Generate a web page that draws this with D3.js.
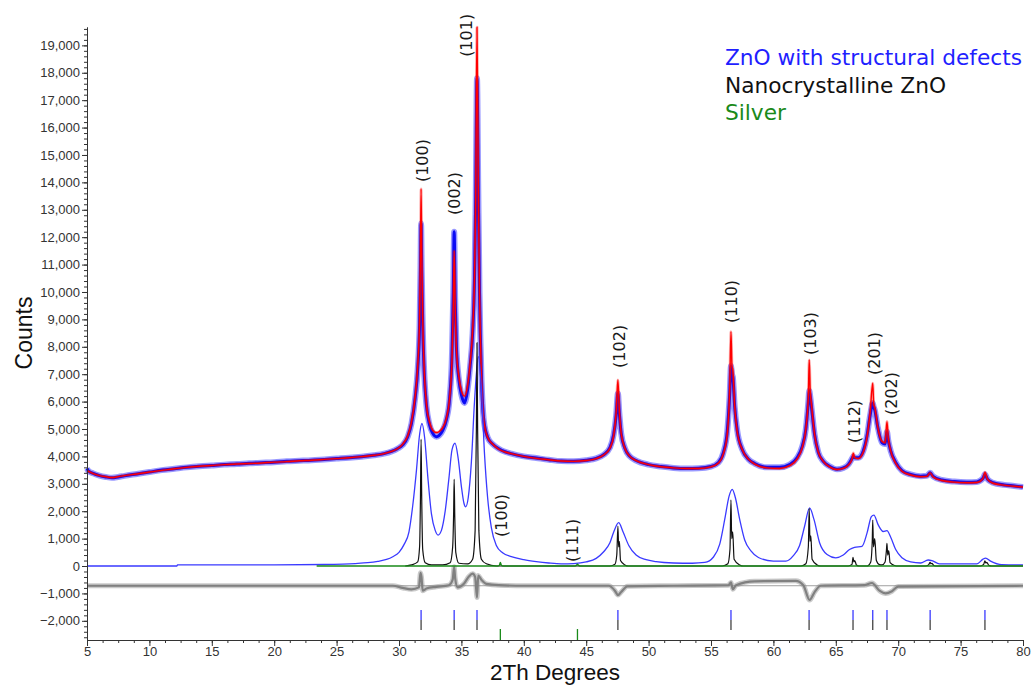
<!DOCTYPE html>
<html>
<head>
<meta charset="utf-8">
<script src="https://cdn.jsdelivr.net/npm/d3@7"></script>
<style>
	body { margin: 0; background: #fff; }
	svg { display: block; }
	.axis text { font-family: "Liberation Sans", Arial, sans-serif; font-size: 13px; fill: #333; }
	.axis path, .axis line { stroke: #333; }
</style>
</head>
<body>
<div class="graphic"></div>
<script>

// 2Th, counts
var observed = [[5.0,3560],[5.1,3480],[5.5,3380],[6,3300],[6.5,3250],[7,3220],[7.5,3250],[8,3290],[9,3360],[10,3430],[11,3500],[12,3550],[13,3600],[14,3640],[15,3670],[16,3700],[17,3720],[18,3750],[19,3770],[20,3790],[21,3820],[22,3840],[23,3860],[24,3890],[25,3920],[26,3950],[27,3990],[28,4040],[28.8,4100],[29.4,4180],[29.9,4290],[30.3,4420],[30.7,4720],[31.0,5200],[31.3,6150],[31.5,7200],[31.65,8800],[31.72,10800],[31.77,12500],[31.82,10800],[31.9,8800],[32.0,7300],[32.2,5850],[32.45,5150],[32.7,4850],[33.0,4720],[33.2,4760],[33.5,4950],[33.8,5350],[34.05,6100],[34.25,7800],[34.35,10000],[34.42,12200],[34.5,9800],[34.6,8000],[34.8,6800],[35.0,6250],[35.25,5950],[35.5,6450],[35.7,7300],[35.9,8500],[36.05,10500],[36.15,13500],[36.25,17800],[36.35,13800],[36.45,10000],[36.6,7000],[36.8,5300],[37.1,4700],[37.5,4450],[38,4280],[38.5,4170],[39,4100],[40,4000],[41,3940],[42,3880],[43,3830],[44,3820],[45,3860],[45.8,3930],[46.4,4060],[46.9,4320],[47.2,4800],[47.4,5500],[47.54,6300],[47.65,5600],[47.8,4850],[48.1,4300],[48.5,4000],[49,3850],[50,3700],[51,3630],[52,3580],[53,3560],[54,3570],[55,3630],[55.6,3780],[56.0,4150],[56.3,4900],[56.5,6300],[56.6,7300],[56.68,7000],[56.75,6900],[56.9,5800],[57.1,4950],[57.5,4250],[58,3900],[58.5,3740],[59.5,3600],[60.5,3600],[61.3,3700],[61.9,3950],[62.3,4350],[62.6,5000],[62.8,6000],[62.87,6400],[62.95,6200],[63.05,5800],[63.3,4800],[63.6,4150],[64,3820],[64.5,3640],[65.1,3530],[65.6,3580],[66.0,3700],[66.3,3920],[66.4,4000],[66.5,3950],[66.8,3950],[67.2,4200],[67.5,4750],[67.75,5500],[67.96,5950],[68.04,5800],[68.12,5700],[68.35,5100],[68.7,4500],[68.95,4450],[69.1,4900],[69.2,4600],[69.4,4200],[69.8,3780],[70.3,3480],[71,3340],[71.8,3280],[72.3,3290],[72.56,3400],[72.8,3270],[73.5,3140],[74.5,3080],[75.5,3060],[76.3,3070],[76.8,3200],[76.95,3350],[77.15,3170],[77.6,3040],[78.5,2960],[79.3,2920],[80,2880]];

var calculated = [[5.0,3480],[5.5,3370],[6.0,3300],[6.5,3260],[7.0,3230],[7.5,3260],[8.0,3300],[9,3360],[10,3430],[11,3490],[12,3550],[13,3600],[14,3640],[15,3670],[16,3700],[17,3720],[18,3740],[19,3760],[20,3790],[21,3810],[22,3840],[23,3860],[24,3890],[25,3920],[26,3950],[27,3990],[28,4040],[28.8,4100],[29.4,4180],[29.9,4290],[30.3,4450],[30.7,4750],[31.0,5250],[31.3,6200],[31.5,7300],[31.65,9000],[31.72,11500],[31.77,13760],[31.82,11500],[31.9,9000],[32.0,7400],[32.2,5900],[32.45,5250],[32.7,4960],[33.0,4870],[33.2,4900],[33.5,5050],[33.8,5400],[34.05,6100],[34.25,7600],[34.35,9500],[34.42,11500],[34.5,9500],[34.6,7900],[34.8,6900],[35.0,6400],[35.25,6200],[35.5,6600],[35.7,7400],[35.9,8600],[36.05,10500],[36.15,13500],[36.25,19660],[36.35,14000],[36.45,10000],[36.6,7000],[36.8,5300],[37.1,4700],[37.5,4450],[38,4260],[38.5,4160],[39,4100],[40,4000],[41,3930],[42,3880],[43,3830],[44,3820],[45,3850],[45.8,3920],[46.4,4050],[46.9,4300],[47.2,4750],[47.4,5600],[47.54,6790],[47.65,5700],[47.8,4850],[48.1,4300],[48.5,4000],[49,3850],[50,3700],[51,3620],[52,3580],[53,3560],[54,3560],[55,3620],[55.6,3760],[56.0,4100],[56.3,4800],[56.5,6500],[56.6,8550],[56.68,7300],[56.75,7150],[56.9,5800],[57.1,4900],[57.5,4250],[58,3900],[58.5,3720],[59.5,3580],[60.5,3560],[61.3,3660],[61.9,3900],[62.3,4300],[62.6,5000],[62.8,6200],[62.87,7520],[62.95,6400],[63.05,5900],[63.3,4800],[63.6,4150],[64,3820],[64.5,3620],[65.1,3520],[65.6,3560],[66.0,3680],[66.3,3900],[66.4,4120],[66.5,3960],[66.8,3920],[67.2,4150],[67.5,4700],[67.75,5600],[67.96,6670],[68.04,5900],[68.12,5800],[68.35,5100],[68.7,4550],[68.95,4500],[69.1,5270],[69.2,4700],[69.4,4200],[69.8,3750],[70.3,3460],[71,3320],[71.8,3260],[72.3,3270],[72.56,3400],[72.8,3250],[73.5,3120],[74.5,3060],[75.5,3040],[76.3,3050],[76.8,3200],[76.95,3420],[77.15,3170],[77.6,3020],[78.5,2950],[79.3,2910],[80,2880]];

var defectZnO = [[5,0],[12.2,0],[12.25,40],[20,45],[24,55],[25.5,70],[26.5,90],[27.5,120],[28.3,170],[29,240],[29.5,340],[30,500],[30.4,780],[30.8,1250],[31.1,2200],[31.4,3500],[31.65,4800],[31.84,5200],[32.05,4700],[32.3,3300],[32.6,1900],[32.9,1300],[33.13,1130],[33.4,1300],[33.7,2000],[34.0,3200],[34.25,4250],[34.49,4480],[34.75,3900],[35.0,2900],[35.2,2300],[35.34,2160],[35.55,2500],[35.8,3800],[36.05,6000],[36.36,7640],[36.6,6500],[36.85,4100],[37.1,2500],[37.4,1400],[37.8,750],[38.3,480],[39,340],[40,230],[41,160],[42,110],[43,80],[44,90],[45,150],[45.8,280],[46.4,520],[46.9,850],[47.25,1300],[47.6,1580],[47.95,1250],[48.4,760],[49,400],[49.8,230],[50.6,160],[52,110],[53.5,100],[54.5,130],[55.2,330],[55.7,800],[56.1,1700],[56.45,2550],[56.7,2800],[56.95,2500],[57.3,1700],[57.7,950],[58.2,550],[58.8,310],[60,180],[61.0,180],[61.6,380],[62.1,750],[62.5,1450],[62.9,2120],[63.25,1700],[63.7,850],[64.3,420],[65.0,300],[65.6,400],[66.1,600],[66.5,680],[67.1,720],[67.5,1200],[67.85,1800],[68.05,1860],[68.4,1500],[68.8,1260],[69.1,1290],[69.4,1050],[69.8,600],[70.3,300],[71,150],[71.8,110],[72.4,220],[72.7,200],[73.3,80],[76.3,80],[76.8,250],[77.0,290],[77.4,180],[78.3,50],[80,40]];

var nanoZnO = [[30.5,0],[31.0,40],[31.5,150],[31.65,700],[31.72,2500],[31.77,4620],[31.82,2500],[31.9,600],[32.1,120],[32.6,40],[33.5,40],[34.1,120],[34.3,700],[34.38,2000],[34.42,3160],[34.47,1800],[34.55,500],[34.8,100],[35.5,80],[35.9,250],[36.1,1300],[36.2,5000],[36.25,8150],[36.3,5000],[36.4,1300],[36.6,250],[37,80],[37.8,0],[46.9,0],[47.3,60],[47.45,400],[47.54,1460],[47.6,700],[47.66,900],[47.75,200],[48.1,40],[48.4,0],[55.9,0],[56.35,80],[56.52,600],[56.6,2410],[56.66,1000],[56.74,1250],[56.85,250],[57.3,40],[57.6,0],[62.2,0],[62.6,80],[62.8,700],[62.87,2100],[62.93,900],[63.0,1100],[63.1,250],[63.5,40],[63.8,0],[66.0,0],[66.3,60],[66.38,320],[66.45,150],[66.52,200],[66.65,40],[66.9,0],[67.5,0],[67.8,150],[67.92,900],[67.96,1680],[68.02,700],[68.12,1000],[68.25,200],[68.5,50],[68.7,40],[68.95,150],[69.06,600],[69.1,830],[69.16,400],[69.24,560],[69.35,120],[69.7,20],[70.0,0],[72.2,0],[72.45,50],[72.56,130],[72.62,80],[72.7,100],[72.85,20],[73.1,0],[76.6,0],[76.85,60],[76.95,190],[77.02,110],[77.1,130],[77.25,30],[77.5,0],[80,0]];

var silver = [[23.4,0],[37.9,0],[38.05,30],[38.12,130],[38.2,30],[38.35,0],[44.1,0],[44.25,40],[44.3,60],[44.35,40],[44.5,0],[80,0]];

var difference = [[5,-720],[29.5,-720],[30.3,-800],[31.0,-850],[31.6,-780],[31.72,-250],[31.8,-400],[31.9,-900],[32.2,-820],[33,-760],[34.0,-700],[34.3,-500],[34.42,-30],[34.5,-450],[34.7,-780],[35.2,-650],[35.6,-380],[35.9,-280],[36.1,-400],[36.25,-1150],[36.35,-350],[36.6,-500],[37,-650],[38,-700],[40,-720],[46.8,-720],[47.3,-900],[47.55,-1060],[47.8,-950],[48.3,-740],[52,-720],[56.4,-700],[56.6,-600],[56.75,-850],[57,-700],[58.5,-560],[61.8,-540],[62.4,-700],[62.9,-1240],[63.3,-950],[63.8,-720],[67.3,-700],[67.9,-620],[68.5,-900],[69.0,-1000],[69.5,-920],[70,-750],[80,-720]];

var diffBaseline = -720;

// reflection positions
var znoReflections = [31.77, 34.42, 36.25, 47.54, 56.60, 62.86, 66.38, 67.96, 69.10, 72.56, 76.95];
var silverReflections = [38.12, 44.30];

// peak labels: text, 2Th, counts at start of text
var peakLabels = [
	['(100)', 31.84, 14010],
	['(002)', 34.45, 12810],
	['(101)', 35.42, 18580],
	['(100)', 38.21, 1060],
	['(111)', 43.86, 150],
	['(102)', 47.63, 7230],
	['(110)', 56.60, 8870],
	['(103)', 63.00, 7700],
	['(112)', 66.46, 4490],
	['(201)', 68.06, 6970],
	['(202)', 69.42, 5510]
];

var legendNames = ['ZnO with structural defects', 'Nanocrystalline ZnO', 'Silver'];
var legendColors = ['#1f1fff', '#111111', '#1a8a1a'];

var xTicks = d3.range(5, 81, 5);
var xMinorTicks = d3.range(5, 80.01, 1.25);
var yTicks = d3.range(-2000, 19001, 1000);
var yMinorTicks = d3.range(-2600, 19601, 200);

var width = 1031, height = 686;
var padding = { top: 27, right: 8, bottom: 46, left: 87 };

var svg = d3.select('.graphic').append('svg').attr('width', width).attr('height', height);

var x = d3.scaleLinear().domain([5, 80]).range([padding.left, width - padding.right]);
var y = d3.scaleLinear().domain([-2700, 19670]).range([height - padding.bottom, padding.top]);

var line = d3.line()
	.x(function (d) { return x(d[0]); })
	.y(function (d) { return y(d[1]); })
	.curve(d3.curveMonotoneX);

function drawSeries(data, color, w, opacity) {
	svg.append('path')
		.datum(data)
		.attr('d', line)
		.attr('fill', 'none')
		.attr('stroke', color)
		.attr('stroke-width', w)
		.attr('stroke-opacity', opacity || 1)
		.attr('stroke-linejoin', 'round');
}

// difference curve with its reference line
svg.append('line')
	.attr('x1', x(5)).attr('x2', x(80))
	.attr('y1', y(diffBaseline)).attr('y2', y(diffBaseline))
	.attr('stroke', '#a0a0a0').attr('stroke-width', 1);
drawSeries(difference, '#8a8a8a', 5, 0.45);
drawSeries(difference, '#808080', 2.2);

// observed (noise band, then core) and calculated
drawSeries(observed, '#0000ff', 6, 0.4);
drawSeries(observed, '#0a0af5', 3);
drawSeries(calculated, '#ff0000', 3, 0.3);
drawSeries(calculated, '#ff0000', 1.4);

// phases
drawSeries(defectZnO, '#3a3aff', 1.3);
drawSeries(nanoZnO, '#111111', 1.2);
drawSeries(silver, '#1a8a1a', 1.5);

// reflection markers
var tickG = svg.append('g');
znoReflections.forEach(function (d) {
	tickG.append('line').attr('x1', x(d)).attr('x2', x(d))
		.attr('y1', y(-1606)).attr('y2', y(-1971))
		.attr('stroke', '#3a3aff').attr('stroke-width', 1.3);
	tickG.append('line').attr('x1', x(d)).attr('x2', x(d))
		.attr('y1', y(-1971)).attr('y2', y(-2336))
		.attr('stroke', '#444').attr('stroke-width', 1.3);
});
silverReflections.forEach(function (d) {
	tickG.append('line').attr('x1', x(d)).attr('x2', x(d))
		.attr('y1', y(-2300)).attr('y2', y(-2700))
		.attr('stroke', '#1a8a1a').attr('stroke-width', 1.3);
});

// axes
svg.append('g').attr('class', 'axis')
	.attr('transform', 'translate(0,' + y(-2700) + ')')
	.call(d3.axisBottom(x).tickValues(xMinorTicks).tickSize(3).tickSizeOuter(0).tickFormat(''));
svg.append('g').attr('class', 'axis')
	.attr('transform', 'translate(0,' + y(-2700) + ')')
	.call(d3.axisBottom(x).tickValues(xTicks).tickSize(6).tickSizeOuter(0).tickPadding(1).tickFormat(d3.format('d')));

svg.append('g').attr('class', 'axis')
	.attr('transform', 'translate(' + x(5) + ',0)')
	.call(d3.axisLeft(y).tickValues(yMinorTicks).tickSize(3).tickSizeOuter(0).tickFormat(''));
svg.append('g').attr('class', 'axis')
	.attr('transform', 'translate(' + x(5) + ',0)')
	.call(d3.axisLeft(y).tickValues(yTicks).tickSize(5).tickSizeOuter(0).tickPadding(2).tickFormat(d3.format(',')));

svg.selectAll('.axis .domain').attr('stroke', '#222');

// axis titles
svg.append('text')
	.attr('x', 555).attr('y', 680)
	.attr('text-anchor', 'middle')
	.style('font-family', '"Liberation Sans", Arial, sans-serif')
	.style('font-size', '22.5px')
	.attr('fill', '#111')
	.text('2Th Degrees');

svg.append('text')
	.attr('transform', 'translate(32,333) rotate(-90)')
	.attr('text-anchor', 'middle')
	.style('font-family', '"Liberation Sans", Arial, sans-serif')
	.style('font-size', '23px')
	.attr('fill', '#111')
	.text('Counts');

// peak labels
svg.selectAll('.peak-label')
	.data(peakLabels)
	.enter().append('text')
	.attr('class', 'peak-label')
	.attr('transform', function (d) { return 'translate(' + x(d[1]) + ',' + y(d[2]) + ') rotate(-90)'; })
	.attr('dy', '0.35em')
	.style('font-family', '"DejaVu Sans", sans-serif')
	.style('font-size', '16px')
	.attr('fill', '#1a1a1a')
	.text(function (d) { return d[0]; });

// legend
svg.selectAll('.legend')
	.data(legendNames)
	.enter().append('text')
	.attr('class', 'legend')
	.attr('x', 725)
	.attr('y', function (d, i) { return 65 + i * 27.5; })
	.style('font-family', '"DejaVu Sans", sans-serif')
	.style('font-size', '21.7px')
	.attr('fill', function (d, i) { return legendColors[i]; })
	.text(function (d) { return d; });

</script>
</body>
</html>
